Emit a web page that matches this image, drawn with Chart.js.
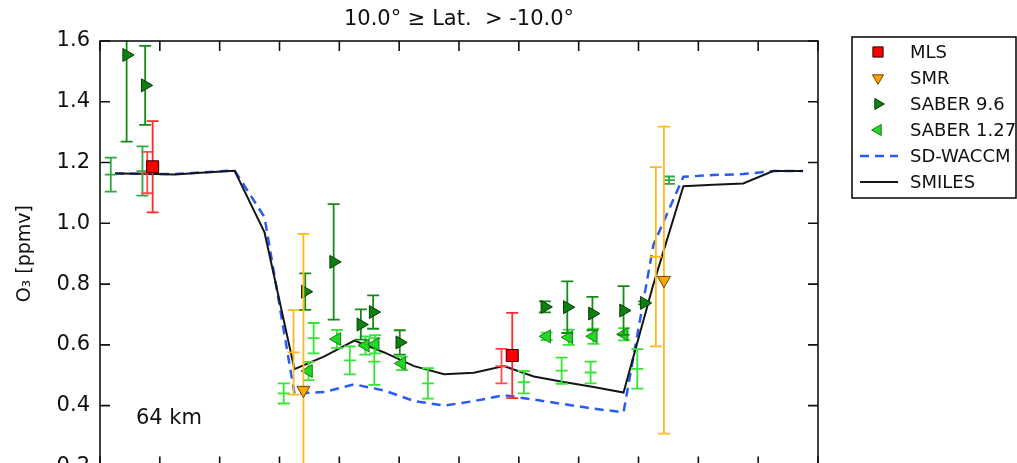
<!DOCTYPE html>
<html>
<head>
<meta charset="utf-8">
<script src="https://cdn.jsdelivr.net/npm/chart.js@4.4.1/dist/chart.umd.min.js"></script>
<style>
html, body { margin: 0; padding: 0; background: #fff; overflow: hidden; }
</style>
</head>
<body>
<canvas id="o3" width="1017" height="489"></canvas>
<script>
// local solar time (h) of the model / SMILES profiles
var hours = [0.5, 1.5, 2.5, 3.5, 4.5, 5.5, 6.5, 7.5, 8.5, 9.5, 10.5, 11.5,
             12.5, 13.5, 14.5, 15.5, 16.5, 17.5, 18.5, 19.5, 20.5, 21.5, 22.5, 23.5];
var smiles  = [1.164, 1.163, 1.161, 1.167, 1.173, 0.970, 0.520, 0.562, 0.614, 0.575, 0.530, 0.503,
               0.508, 0.530, 0.496, 0.478, 0.461, 0.443, 0.800, 1.122, 1.127, 1.131, 1.172, 1.172];
var sdWaccm = [1.164, 1.163, 1.162, 1.168, 1.174, 1.020, 0.440, 0.445, 0.470, 0.450, 0.415, 0.400,
               0.415, 0.434, 0.420, 0.405, 0.390, 0.378, 0.930, 1.153, 1.159, 1.162, 1.172, 1.172];

// MLS
var mlsHour = [1.76, 13.78];
var mlsO3   = [1.186, 0.565];
var mlsErr  = [0.150, 0.140];
var mlsAltHour = [1.58, 13.42];
var mlsAltO3   = [1.167, 0.530];
var mlsAltErr  = [0.068, 0.057];

// SMR
var smrHour = [6.80, 18.85];
var smrO3   = [0.451, 0.813];
var smrErr  = [0.514, 0.505];
var smrAltHour = [6.47, 18.58];
var smrAltO3   = [0.575, 0.890];
var smrAltErr  = [0.139, 0.295];

// SABER 9.6 um
var saber96Hour = [0.89, 1.51, 6.86, 7.81, 8.72, 9.13, 10.02, 14.87, 15.62, 16.46, 17.50, 18.19];
var saber96O3   = [1.554, 1.454, 0.775, 0.873, 0.667, 0.708, 0.608, 0.725, 0.724, 0.703, 0.713, 0.738];
var saber96Err  = [0.285, 0.130, 0.060, 0.190, 0.050, 0.055, 0.040, 0.018, 0.085, 0.055, 0.080, 0.005];

// SABER 1.27 um
var saber127Hour = [6.97, 7.92, 8.87, 9.20, 10.09, 14.93, 15.67, 16.49, 17.52];
var saber127O3   = [0.514, 0.619, 0.598, 0.602, 0.539, 0.628, 0.625, 0.628, 0.635];
var saber127Err  = [0.030, 0.030, 0.030, 0.030, 0.022, 0.012, 0.025, 0.025, 0.020];
var saber127AltHour = [6.14, 7.14, 8.35, 9.17, 10.96, 14.17, 15.43, 16.40, 17.96];
var saber127AltO3   = [0.440, 0.622, 0.549, 0.545, 0.473, 0.477, 0.515, 0.509, 0.521];
var saber127AltErr  = [0.033, 0.050, 0.046, 0.077, 0.050, 0.037, 0.043, 0.036, 0.065];

var saberNightHour = [0.36, 1.42, 19.02];
var saberNightO3   = [1.160, 1.172, 1.142];
var saberNightErr  = [0.056, 0.081, 0.012];

var hourTicks = [0, 2, 4, 6, 8, 10, 12, 14, 16, 18, 20, 22, 24];

function pts(xs, ys) {
  return xs.map(function (x, i) { return { x: x, y: ys[i] }; });
}

var FONT = '"DejaVu Sans"';

// vertical error bars with caps, drawn just before each dataset
var errorBars = {
  id: 'errorBars',
  beforeDatasetDraw: function (chart, args) {
    var ds = chart.data.datasets[args.index];
    if (!ds.err) return;
    var ctx = chart.ctx, xs = chart.scales.x, ys = chart.scales.y, a = chart.chartArea;
    var cap = 6;
    ctx.save();
    ctx.beginPath();
    ctx.rect(a.left, a.top, a.right - a.left, a.bottom - a.top);
    ctx.clip();
    ctx.strokeStyle = ds.barColor;
    ctx.lineWidth = 1.8;
    ds.data.forEach(function (p, i) {
      var px = xs.getPixelForValue(p.x);
      var py = ys.getPixelForValue(p.y);
      var t = ys.getPixelForValue(p.y + ds.err[i]);
      var b = ys.getPixelForValue(p.y - ds.err[i]);
      ctx.beginPath();
      ctx.moveTo(px, t); ctx.lineTo(px, b);
      ctx.moveTo(px - cap, t); ctx.lineTo(px + cap, t);
      ctx.moveTo(px - cap, b); ctx.lineTo(px + cap, b);
      if (ds.centreTick) { ctx.moveTo(px - cap, py); ctx.lineTo(px + cap, py); }
      ctx.stroke();
    });
    ctx.restore();
  }
};

// axes frame with inward ticks, plus the altitude note
var frame = {
  id: 'frame',
  afterDatasetsDraw: function (chart) {
    var ctx = chart.ctx, a = chart.chartArea, xs = chart.scales.x, ys = chart.scales.y;
    var len = 10;
    ctx.save();
    ctx.strokeStyle = '#111';
    ctx.lineWidth = 1.6;
    ctx.strokeRect(a.left, a.top, a.right - a.left, a.bottom - a.top);
    ctx.beginPath();
    hourTicks.forEach(function (h) {
      var px = xs.getPixelForValue(h);
      ctx.moveTo(px, a.top); ctx.lineTo(px, a.top + len);
      ctx.moveTo(px, a.bottom); ctx.lineTo(px, a.bottom - len);
    });
    ys.ticks.forEach(function (t) {
      var py = ys.getPixelForValue(t.value);
      ctx.moveTo(a.left, py); ctx.lineTo(a.left + len, py);
      ctx.moveTo(a.right, py); ctx.lineTo(a.right - len, py);
    });
    ctx.stroke();
    ctx.fillStyle = '#111';
    ctx.font = '21px ' + FONT;
    ctx.textBaseline = 'alphabetic';
    ctx.fillText('64 km', a.left + 0.05 * (a.right - a.left), a.bottom - 0.1 * (a.bottom - a.top));
    ctx.restore();
  }
};

var legendOrder = [0, 1, 2, 3, 9, 8];

var legendBox = {
  id: 'legendBox',
  afterDraw: function (chart) {
    var ctx = chart.ctx;
    var left = 852, top = 37, w = 164, h = 161;
    ctx.save();
    ctx.fillStyle = '#fff';
    ctx.fillRect(left, top, w, h);
    ctx.strokeStyle = '#111';
    ctx.lineWidth = 1.6;
    ctx.strokeRect(left, top, w, h);
    legendOrder.forEach(function (idx, i) {
      var ds = chart.data.datasets[idx];
      var cy = top + 15 + i * 26;
      if (ds.showLine === false) {
        ctx.fillStyle = ds.pointBackgroundColor;
        ctx.strokeStyle = ds.pointBorderColor;
        ctx.lineWidth = ds.pointBorderWidth;
        ctx.setLineDash([]);
        Chart.helpers.drawPoint(ctx, {
          pointStyle: ds.pointStyle, rotation: ds.pointRotation || 0,
          radius: ds.pointRadius * 0.85, borderWidth: ds.pointBorderWidth
        }, 878, cy);
      } else {
        ctx.strokeStyle = ds.borderColor;
        ctx.lineWidth = ds.borderWidth;
        ctx.setLineDash(ds.borderDash || []);
        ctx.beginPath();
        ctx.moveTo(860, cy); ctx.lineTo(898, cy);
        ctx.stroke();
      }
      ctx.setLineDash([]);
      ctx.fillStyle = '#111';
      ctx.font = '18px ' + FONT;
      ctx.textBaseline = 'middle';
      ctx.fillText(ds.label, 910, cy + 1);
    });
    ctx.restore();
  }
};

new Chart(document.getElementById('o3'), {
  type: 'line',
  data: {
    datasets: [
      { label: 'MLS', data: pts(mlsHour, mlsO3), err: mlsErr, barColor: '#ff2a2a',
        showLine: false, pointStyle: 'rect', pointRadius: 8.5, pointBackgroundColor: '#ff0000',
        pointBorderColor: '#2a0000', pointBorderWidth: 1, order: 0 },
      { label: 'SMR', data: pts(smrHour, smrO3), err: smrErr, barColor: '#ffb820',
        showLine: false, pointStyle: 'triangle', pointRotation: 180, pointRadius: 7.5,
        pointBackgroundColor: '#ffa500', pointBorderColor: '#6a4500', pointBorderWidth: 1, order: 0 },
      { label: 'SABER 9.6', data: pts(saber96Hour, saber96O3), err: saber96Err, barColor: '#168a16',
        showLine: false, pointStyle: 'triangle', pointRotation: 90, pointRadius: 7.5,
        pointBackgroundColor: '#0d800d', pointBorderColor: '#0a3a0a', pointBorderWidth: 1, order: 0 },
      { label: 'SABER 1.27', data: pts(saber127Hour, saber127O3), err: saber127Err, barColor: '#33e633',
        showLine: false, pointStyle: 'triangle', pointRotation: -90, pointRadius: 7.5,
        pointBackgroundColor: '#22d822', pointBorderColor: '#1a7a1a', pointBorderWidth: 1, order: 0 },
      { label: 'MLS b', data: pts(mlsAltHour, mlsAltO3), err: mlsAltErr, barColor: '#ff4a4a',
        centreTick: true, showLine: false, pointRadius: 0, order: 2 },
      { label: 'SMR b', data: pts(smrAltHour, smrAltO3), err: smrAltErr, barColor: '#ffb820',
        centreTick: true, showLine: false, pointRadius: 0, order: 2 },
      { label: 'SABER 1.27 b', data: pts(saber127AltHour, saber127AltO3), err: saber127AltErr,
        barColor: '#33e633', centreTick: true, showLine: false, pointRadius: 0, order: 2 },
      { label: 'SABER night', data: pts(saberNightHour, saberNightO3), err: saberNightErr,
        barColor: '#30a840', centreTick: true, showLine: false, pointRadius: 0, order: 2 },
      { label: 'SMILES', data: pts(hours, smiles), borderColor: '#161616', borderWidth: 2,
        pointRadius: 0, fill: false, tension: 0, order: 3 },
      { label: 'SD-WACCM', data: pts(hours, sdWaccm), borderColor: '#2a5cf5', borderWidth: 2.5,
        borderDash: [9, 6], pointRadius: 0, fill: false, tension: 0, order: 4 }
    ]
  },
  options: {
    responsive: false,
    animation: false,
    events: [],
    layout: { padding: { left: 0, right: 199, top: 0, bottom: 15 } },
    plugins: {
      legend: { display: false },
      tooltip: { enabled: false },
      title: {
        display: true,
        fullSize: false,
        text: '10.0° ≥ Lat.  > -10.0°',
        color: '#111',
        font: { family: FONT, size: 21, weight: 'normal' },
        padding: { top: 7, bottom: 8.8 }
      }
    },
    scales: {
      x: {
        type: 'linear', min: 0, max: 24, display: false
      },
      y: {
        min: 0.2, max: 1.6,
        grid: { display: false, drawTicks: false },
        border: { display: false },
        ticks: {
          stepSize: 0.2, padding: 10, color: '#111',
          font: { family: FONT, size: 21 },
          callback: function (v) { return v.toFixed(1); }
        },
        title: {
          display: true, text: 'O₃ [ppmv]', color: '#111',
          font: { family: FONT, size: 19 }, padding: { top: 14, bottom: 0 }
        },
        afterFit: function (scale) { scale.width = 100; }
      }
    }
  },
  plugins: [errorBars, frame, legendBox]
});
</script>
</body>
</html>
